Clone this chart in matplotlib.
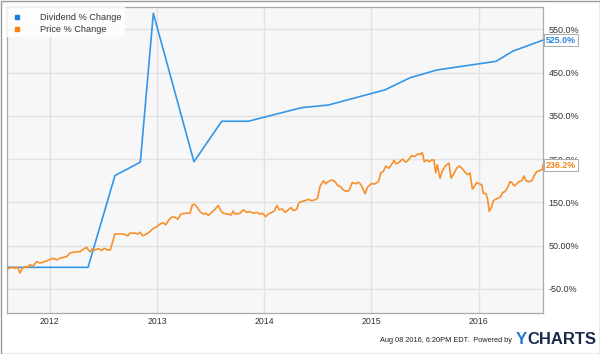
import matplotlib
matplotlib.use("Agg")
import matplotlib.pyplot as plt
from matplotlib.patches import Rectangle

plt.rcParams['font.family'] = ['Liberation Sans', 'DejaVu Sans']

# ---- data ----
div_years = [2011.600, 2012.356, 2012.607, 2012.844, 2012.965, 2013.344, 2013.603,
             2013.851, 2014.349, 2014.597, 2015.126, 2015.359, 2015.611, 2016.162,
             2016.323, 2016.600]
div_pct = [0, 0, 212, 243, 587, 244, 337.5, 337.5, 369, 375, 410, 438, 456, 476, 500, 525]

price_years = [
    2011.600, 2011.612, 2011.644, 2011.675, 2011.700, 2011.721, 2011.743, 2011.768,
    2011.787, 2011.815, 2011.836, 2011.877, 2011.908, 2011.939, 2011.970, 2012.001,
    2012.032, 2012.064, 2012.094, 2012.125, 2012.157, 2012.188, 2012.218, 2012.250,
    2012.281, 2012.312, 2012.343, 2012.374, 2012.396, 2012.421, 2012.452, 2012.483,
    2012.508, 2012.539, 2012.564, 2012.582, 2012.607, 2012.638, 2012.685, 2012.726,
    2012.747, 2012.794, 2012.819, 2012.841, 2012.866, 2012.903, 2012.934, 2012.965,
    2012.997, 2013.027, 2013.058, 2013.080, 2013.111, 2013.136, 2013.167, 2013.192,
    2013.223, 2013.260, 2013.307, 2013.329, 2013.347, 2013.370, 2013.400, 2013.431,
    2013.456, 2013.478, 2013.510, 2013.540, 2013.571, 2013.596, 2013.618, 2013.659,
    2013.690, 2013.711, 2013.727, 2013.774, 2013.804, 2013.836, 2013.867, 2013.898,
    2013.929, 2013.960, 2013.985, 2014.013, 2014.037, 2014.069, 2014.093, 2014.116,
    2014.140, 2014.168, 2014.193, 2014.224, 2014.249, 2014.271, 2014.302, 2014.324,
    2014.349, 2014.380, 2014.411, 2014.442, 2014.473, 2014.498, 2014.520, 2014.551,
    2014.573, 2014.597, 2014.629, 2014.660, 2014.685, 2014.709, 2014.737, 2014.762,
    2014.790, 2014.821, 2014.853, 2014.877, 2014.902, 2014.924, 2014.940, 2014.963,
    2014.996, 2015.033, 2015.064, 2015.089, 2015.110, 2015.133, 2015.163, 2015.189,
    2015.210, 2015.229, 2015.260, 2015.288, 2015.319, 2015.344, 2015.375, 2015.406,
    2015.431, 2015.453, 2015.474, 2015.493, 2015.515, 2015.539, 2015.562, 2015.583,
    2015.599, 2015.614, 2015.639, 2015.661, 2015.686, 2015.707, 2015.723, 2015.742,
    2015.763, 2015.795, 2015.819, 2015.844, 2015.872, 2015.898, 2015.919, 2015.941,
    2015.959, 2015.982, 2016.003, 2016.028, 2016.043, 2016.068, 2016.084, 2016.099,
    2016.121, 2016.136, 2016.159, 2016.183, 2016.205, 2016.224, 2016.246, 2016.271,
    2016.292, 2016.308, 2016.332, 2016.355, 2016.376, 2016.401, 2016.423, 2016.441,
    2016.469, 2016.495, 2016.516, 2016.541, 2016.572, 2016.594, 2016.600]
price_pct = [
    -1, -3, 0, -2, 0, -13, -3, 2,
    0, 6, 2, 13, 10, 12, 15, 18,
    21, 17, 21, 23, 25, 33, 35, 36,
    36, 42, 46, 36, 43, 40, 43, 39,
    44, 40, 40, 56, 77, 77, 77, 73,
    79, 79, 77, 81, 73, 77, 83, 90,
    94, 100, 103, 98, 110, 116, 116, 111,
    123, 125, 125, 144, 146, 140, 129, 123,
    125, 120, 127, 134, 143, 130, 125, 123,
    121, 130, 123, 125, 133, 127, 129, 125,
    127, 123, 125, 117, 123, 127, 130, 143,
    133, 135, 127, 133, 138, 131, 134, 150,
    152, 154, 157, 154, 156, 160, 187, 200,
    193, 198, 202, 198, 189, 187, 179, 176,
    177, 196, 193, 197, 191, 179, 170, 185,
    193, 193, 198, 219, 221, 234, 229, 238,
    247, 239, 243, 250, 243, 248, 258, 256,
    262, 261, 265, 244, 248, 244, 248, 248,
    218, 237, 206, 223, 233, 238, 241, 206,
    214, 229, 234, 229, 220, 214, 218, 181,
    187, 196, 193, 191, 171, 170, 156, 129,
    140, 154, 157, 160, 163, 173, 175, 185,
    198, 196, 188, 193, 198, 200, 211, 200,
    198, 200, 211, 221, 224, 225, 236.2]

y_ticks = [-50, 50, 150, 250, 350, 450, 550]
y_tick_labels = ["-50.0%", "50.00%", "150.0%", "250.0%", "350.0%", "450.0%", "550.0%"]
x_ticks = [2012, 2013, 2014, 2015, 2016]
x_tick_labels = ["2012", "2013", "2014", "2015", "2016"]
series_names = ["Dividend % Change", "Price % Change"]
last_labels = ["525.0%", "236.2%"]

BLUE = '#3496e8'
ORANGE = '#f8902c'

fig = plt.figure(figsize=(6.0, 3.54), dpi=100)
fig.patch.set_facecolor('white')
ax = fig.add_axes([7/600, 1-313/354, 536/600, 306/354])
ax.set_facecolor('#f7f7f7')

ax.set_xlim(2011.6, 2016.6)
ax.set_ylim(-105.5, 601.5)
ax.set_xticks(x_ticks)
ax.set_yticks(y_ticks)
ax.grid(True, color='#e2e2e2', linewidth=1.0)
ax.set_axisbelow(True)
for s in ax.spines.values():
    s.set_color('#aaaaaa')
    s.set_linewidth(0.9)

ax.plot(div_years, div_pct, color=BLUE, linewidth=1.2, zorder=3)
ax.plot(price_years, price_pct, color=ORANGE, linewidth=1.2, zorder=3)

ax.set_xticklabels(x_tick_labels, fontsize=6.3, color='#333333')
ax.yaxis.tick_right()
ax.set_yticklabels(y_tick_labels, fontsize=6.5, color='#333333')
ax.tick_params(axis='both', length=0)
ax.tick_params(axis='x', pad=3)
ax.tick_params(axis='y', pad=4)

# legend box
ax.add_patch(Rectangle((0, 1 - 30/306), 118/536, 30/306, transform=ax.transAxes,
                       facecolor='white', edgecolor='none', alpha=0.85, zorder=4))
for i, (name, col) in enumerate(zip(series_names, ['#1a7fe0', '#ff7f0e'])):
    yy = 1 - (10 + i*12)/306
    ax.plot([10/536], [yy], marker='s', markersize=3.5, color=col,
            transform=ax.transAxes, zorder=5, clip_on=False)
    ax.text(33/536, yy, name, transform=ax.transAxes, fontsize=6.6,
            color='#333333', va='center', ha='left', zorder=5)

# last value labels (cover the tick label behind them, as in the reference)
for val, lab, col in [(div_pct[-1], last_labels[0], '#2a86dc'),
                      (price_pct[-1], last_labels[1], '#f6841c')]:
    ax.annotate(lab, xy=(1, val), xycoords=('axes fraction', 'data'),
                xytext=(2, 0), textcoords='offset points', fontsize=6.4,
                fontweight='bold', color=col, va='center', ha='left',
                bbox=dict(boxstyle='square,pad=0.2', facecolor='white',
                          edgecolor='#aaaaaa', linewidth=0.7),
                annotation_clip=False, zorder=6)

# footer
fig.text(512/600, 1-341/354, "Aug 08 2016, 6:20PM EDT.  Powered by", fontsize=5.3,
         color='#222222', ha='right', va='center')
ty = fig.text(516/600, 1-339/354, "Y", fontsize=12, fontweight='bold', color='#1f78d1',
              ha='left', va='center')
fig.add_artist(plt.Annotation("CHARTS", xy=(1.0, 0.5), xycoords=ty, fontsize=12,
                              fontweight='bold', color='#1b2a4a', ha='left', va='center'))

# outer border
fig.add_artist(Rectangle((0.5/600, 0.5/354), 599/600, 353/354, transform=fig.transFigure,
                         facecolor='none', edgecolor='#999999', linewidth=1.0))

fig.savefig('out.png', dpi=100)
